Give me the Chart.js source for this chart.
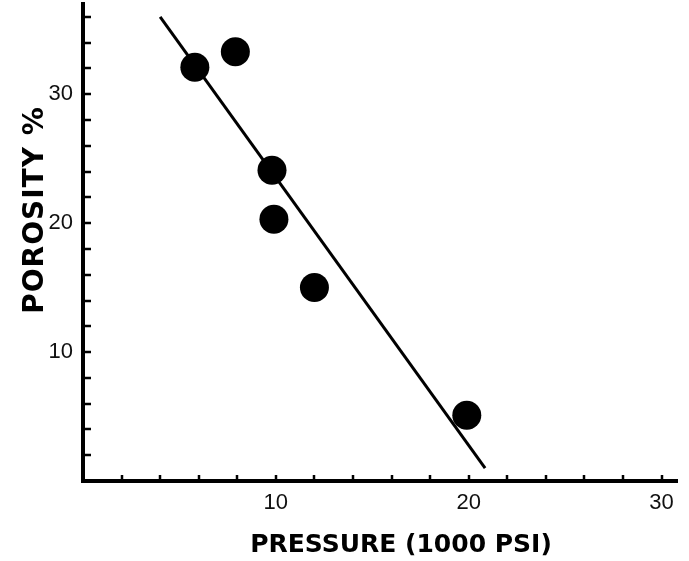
<!DOCTYPE html>
<html>
<head>
<meta charset="utf-8">
<script src="https://cdn.jsdelivr.net/npm/chart.js@4/dist/chart.umd.min.js"></script>
<style>
  html, body { margin: 0; padding: 0; background: #fff; }
  #wrap { width: 689px; height: 561px; }
</style>
</head>
<body>
<div id="wrap"><canvas id="porosityChart" width="689" height="561"></canvas></div>
<script>
// data
const pressure = [5.8, 7.9, 9.8, 9.9, 12.0, 19.9];   // 1000 psi
const porosity = [32.1, 33.3, 24.1, 20.3, 15.0, 5.1]; // %
const fitX = [4.0, 20.85];
const fitY = [36.0, 1.0];

const xTicks = [2, 4, 6, 8, 10, 12, 14, 16, 18, 20, 22, 24, 26, 28, 30];
const yTicks = [2, 4, 6, 8, 10, 12, 14, 16, 18, 20, 22, 24, 26, 28, 30, 32, 34, 36];
const labelledTicks = [10, 20, 30];

const xTitle = "PRESSURE (1000 PSI)";
const yTitle = "POROSITY %";

const ink = "#000";

// short tick marks pointing into the plot, and the two axis titles
const axisDecor = {
  id: "axisDecor",
  afterDraw(chart) {
    const ctx = chart.ctx;
    const xs = chart.scales.x, ys = chart.scales.y;
    const area = chart.chartArea;
    ctx.save();
    ctx.strokeStyle = ink;
    ctx.lineWidth = 2.5;
    ctx.beginPath();
    xTicks.forEach(v => {
      const px = Math.round(xs.getPixelForValue(v));
      ctx.moveTo(px, area.bottom);
      ctx.lineTo(px, area.bottom - 6);
    });
    yTicks.forEach(v => {
      const py = Math.round(ys.getPixelForValue(v));
      ctx.moveTo(area.left, py);
      ctx.lineTo(area.left + 8, py);
    });
    ctx.stroke();

    ctx.fillStyle = ink;
    ctx.textAlign = "center";
    ctx.textBaseline = "middle";
    ctx.font = "bold 25px 'DejaVu Sans'";
    ctx.letterSpacing = "0px";
    ctx.fillText(xTitle, 401, 545);

    ctx.translate(36, 210);
    ctx.rotate(-Math.PI / 2);
    ctx.font = "bold 28px 'DejaVu Sans'";
    ctx.letterSpacing = "1px";
    ctx.fillText(yTitle, 0, 0);
    ctx.restore();
  }
};

function tickLabel(value) {
  return labelledTicks.includes(value) ? String(value) : "";
}

const ctx = document.getElementById("porosityChart").getContext("2d");
new Chart(ctx, {
  data: {
    datasets: [
      {
        type: "line",
        data: fitX.map((x, i) => ({ x: x, y: fitY[i] })),
        borderColor: ink,
        borderWidth: 3,
        pointRadius: 0,
        fill: false
      },
      {
        type: "scatter",
        data: pressure.map((x, i) => ({ x: x, y: porosity[i] })),
        backgroundColor: ink,
        borderWidth: 0,
        pointRadius: 14.5
      }
    ]
  },
  options: {
    responsive: false,
    animation: false,
    layout: { autoPadding: false, padding: { top: 4, right: 12, left: 0, bottom: 0 } },
    plugins: { legend: { display: false }, tooltip: { enabled: false } },
    scales: {
      x: {
        type: "linear",
        min: 0,
        max: 30.8,
        afterFit(scale) {
          scale.height = 80;
          scale.paddingLeft = 0;
          scale.paddingRight = 0;
        },
        afterBuildTicks(scale) { scale.ticks = xTicks.map(v => ({ value: v })); },
        grid: { display: false, drawTicks: false },
        border: { display: true, color: ink, width: 4 },
        ticks: {
          autoSkip: false,
          maxRotation: 0,
          padding: 9,
          color: "#111",
          font: { family: "'Liberation Sans'", size: 22 },
          callback: tickLabel
        }
      },
      y: {
        type: "linear",
        min: 0,
        max: 37,
        afterFit(scale) {
          scale.width = 83;
          scale.paddingTop = 0;
          scale.paddingBottom = 0;
        },
        afterBuildTicks(scale) { scale.ticks = yTicks.map(v => ({ value: v })); },
        grid: { display: false, drawTicks: false },
        border: { display: true, color: ink, width: 4 },
        ticks: {
          autoSkip: false,
          padding: 10,
          color: "#111",
          font: { family: "'Liberation Sans'", size: 22 },
          callback: tickLabel
        }
      }
    }
  },
  plugins: [axisDecor]
});
</script>
</body>
</html>
